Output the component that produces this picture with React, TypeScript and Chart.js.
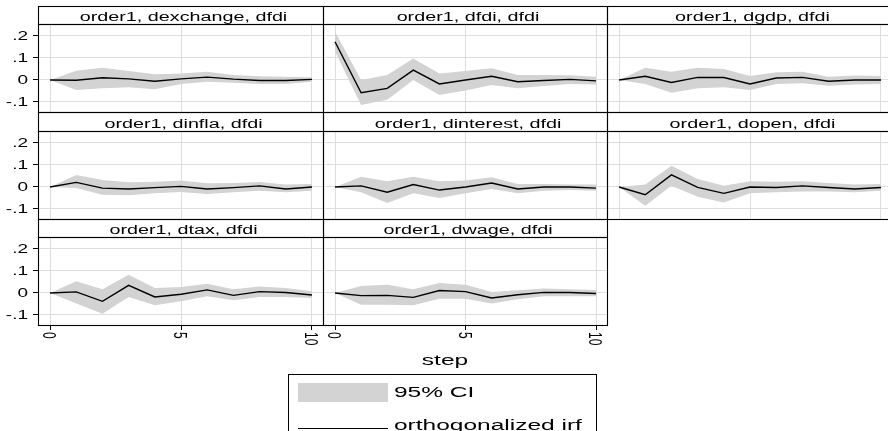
import React, { useEffect, useRef } from 'react';
import { Chart, registerables } from 'chart.js';

Chart.register(...registerables);

// ---------------- data ----------------
const steps = [0, 1, 2, 3, 4, 5, 6, 7, 8, 9, 10];
const xTickValues = [0, 5, 10];
const xTickLabels = ['0', '5', '10'];
const yTickValues = [0.2, 0.1, 0, -0.1];
const yTickLabels = ['.2', '.1', '0', '-.1'];
const xAxisTitle = 'step';
const legendLabels = ['95% CI', 'orthogonalized irf'];

const panelTitles = [
  'order1, dexchange, dfdi',
  'order1, dfdi, dfdi',
  'order1, dgdp, dfdi',
  'order1, dinfla, dfdi',
  'order1, dinterest, dfdi',
  'order1, dopen, dfdi',
  'order1, dtax, dfdi',
  'order1, dwage, dfdi',
];

const irfDexchange = [0, -0.001, 0.01, 0.005, -0.006, 0.005, 0.013, 0.004, -0.002, -0.002, 0.003];
const hiDexchange = [0, 0.042, 0.056, 0.041, 0.026, 0.03, 0.038, 0.023, 0.017, 0.015, 0.013];
const loDexchange = [0, -0.045, -0.038, -0.033, -0.042, -0.018, -0.008, -0.012, -0.018, -0.018, -0.008];

const irfDfdi = [0.174, -0.058, -0.038, 0.045, -0.018, 0.0, 0.017, -0.008, -0.002, 0.003, -0.004];
const hiDfdi = [0.22, 0.0, 0.023, 0.098, 0.03, 0.041, 0.053, 0.023, 0.023, 0.022, 0.015];
const loDfdi = [0.129, -0.114, -0.09, 0.0, -0.068, -0.048, -0.023, -0.038, -0.027, -0.018, -0.02];

const irfDgdp = [0, 0.017, -0.011, 0.012, 0.011, -0.018, 0.009, 0.012, -0.006, 0, 0];
const hiDgdp = [0, 0.056, 0.038, 0.056, 0.05, 0.018, 0.035, 0.038, 0.015, 0.02, 0.018];
const loDgdp = [0, -0.018, -0.058, -0.038, -0.033, -0.045, -0.018, -0.015, -0.026, -0.02, -0.018];

const irfDinfla = [0, 0.021, -0.005, -0.009, -0.003, 0.003, -0.009, -0.003, 0.005, -0.009, 0];
const hiDinfla = [0, 0.055, 0.032, 0.021, 0.024, 0.029, 0.017, 0.018, 0.023, 0.011, 0.014];
const loDinfla = [0, -0.005, -0.035, -0.038, -0.029, -0.023, -0.032, -0.024, -0.017, -0.024, -0.017];

const irfDinterest = [0, 0.005, -0.024, 0.011, -0.014, 0, 0.018, -0.009, 0, 0, -0.005];
const hiDinterest = [0, 0.047, 0.026, 0.047, 0.026, 0.029, 0.044, 0.014, 0.014, 0.011, 0.011];
const loDinterest = [0, -0.024, -0.073, -0.029, -0.05, -0.029, -0.009, -0.029, -0.017, -0.014, -0.017];

const irfDopen = [0, -0.035, 0.055, -0.002, -0.029, 0, -0.002, 0.005, -0.002, -0.009, -0.002];
const hiDopen = [0, 0.011, 0.097, 0.036, 0.006, 0.026, 0.024, 0.026, 0.018, 0.011, 0.014];
const loDopen = [0, -0.085, 0.006, -0.044, -0.07, -0.029, -0.024, -0.02, -0.021, -0.024, -0.017];

const irfDtax = [0, 0.005, -0.038, 0.035, -0.018, -0.006, 0.014, -0.011, 0.006, 0.002, -0.009];
const hiDtax = [0, 0.053, 0.017, 0.083, 0.023, 0.027, 0.042, 0.017, 0.029, 0.023, 0.008];
const loDtax = [0, -0.048, -0.094, -0.018, -0.056, -0.038, -0.015, -0.033, -0.018, -0.018, -0.023];

const irfDwage = [0, -0.012, -0.011, -0.02, 0.011, 0.006, -0.023, -0.008, 0.003, 0.002, -0.002];
const hiDwage = [0, 0.032, 0.038, 0.017, 0.045, 0.038, 0.005, 0.012, 0.02, 0.017, 0.014];
const loDwage = [0, -0.053, -0.053, -0.056, -0.026, -0.026, -0.048, -0.029, -0.015, -0.015, -0.015];

const irfSeries = [irfDexchange, irfDfdi, irfDgdp, irfDinfla, irfDinterest, irfDopen, irfDtax, irfDwage];
const hiSeries = [hiDexchange, hiDfdi, hiDgdp, hiDinfla, hiDinterest, hiDopen, hiDtax, hiDwage];
const loSeries = [loDexchange, loDfdi, loDgdp, loDinfla, loDinterest, loDopen, loDtax, loDwage];

// ---------------- styling / layout ----------------
const FONT = '"Liberation Sans", Arial, Helvetica, sans-serif';
const STRETCH = 1.58;
const CI_GRAY = '#d3d3d3';
const GRID_GRAY = '#dedede';

const COL_L = [38, 323, 607];
const COL_W = [285, 284, 285];
const ROW_T = [6, 112, 219];
const TITLE_H = [18, 19, 18];
const PLOT_H = 88;
const PAD = 2;
const X_LABEL_H = 30;
const X_MIN = -0.46;
const X_MAX = 10.42;
const Y_MIN = -0.1455;
const Y_MAX = 0.2545;

const decorPlugin = {
  id: 'panelDecor',
  afterDraw(chart: any, _args: any, opts: any) {
    const { ctx, chartArea: a, scales } = chart;
    const tTop = a.top - opts.titleH;
    ctx.save();
    ctx.strokeStyle = '#000';
    ctx.lineWidth = 1.1;
    ctx.strokeRect(a.left + 0.5, tTop + 0.5, a.right - a.left, opts.titleH);
    ctx.strokeRect(a.left + 0.5, a.top + 0.5, a.right - a.left, a.bottom - a.top);

    ctx.fillStyle = '#000';
    // title
    ctx.save();
    ctx.font = `12.5px ${FONT}`;
    ctx.textAlign = 'center';
    ctx.textBaseline = 'alphabetic';
    ctx.translate((a.left + a.right) / 2 + 3, tTop + opts.titleH - 3.5);
    ctx.scale(STRETCH, 1);
    ctx.fillText(opts.title, 0, 0);
    ctx.restore();

    ctx.font = `12px ${FONT}`;
    ctx.textBaseline = 'alphabetic';
    if (opts.showY) {
      ctx.textAlign = 'right';
      yTickValues.forEach((v, i) => {
        const y = scales.y.getPixelForValue(v);
        ctx.save();
        ctx.translate(a.left - 10, y);
        ctx.scale(STRETCH, 1);
        ctx.fillText(yTickLabels[i], 0, 4.3);
        ctx.restore();
      });
    }
    if (opts.showX) {
      ctx.textAlign = 'left';
      xTickValues.forEach((v, i) => {
        const x = scales.x.getPixelForValue(v);
        ctx.save();
        ctx.translate(x, a.bottom + 7);
        ctx.scale(STRETCH, 1);
        ctx.rotate(Math.PI / 2);
        ctx.fillText(xTickLabels[i], 0, 4.3);
        ctx.restore();
      });
    }
    ctx.restore();
  },
};

function Panel({ index }: { index: number }) {
  const ref = useRef<HTMLCanvasElement>(null);
  const col = index % 3;
  const row = Math.floor(index / 3);
  const showY = col === 0;
  const showX = row === 2;
  const L = COL_L[col];
  const W = COL_W[col];
  const T = ROW_T[row];
  const tH = TITLE_H[row];
  const canvasLeft = showY ? 0 : L - PAD;
  const canvasTop = T - PAD;
  const width = L + W + PAD - canvasLeft;
  const height = T + tH + PLOT_H + (showX ? X_LABEL_H : PAD) - canvasTop;

  useEffect(() => {
    const irf = irfSeries[index];
    const hi = hiSeries[index];
    const lo = loSeries[index];
    const chart = new Chart(ref.current as HTMLCanvasElement, {
      type: 'line',
      data: {
        datasets: [
          {
            label: legendLabels[1],
            data: steps.map((s, i) => ({ x: s, y: irf[i] })),
            borderColor: '#000',
            borderWidth: 1.4,
            pointRadius: 0,
            fill: false,
            tension: 0,
          },
          {
            label: legendLabels[0],
            data: steps.map((s, i) => ({ x: s, y: hi[i] })),
            borderColor: 'rgba(0,0,0,0)',
            borderWidth: 0,
            backgroundColor: CI_GRAY,
            pointRadius: 0,
            fill: '+1',
            tension: 0,
          },
          {
            label: 'lower',
            data: steps.map((s, i) => ({ x: s, y: lo[i] })),
            borderColor: 'rgba(0,0,0,0)',
            borderWidth: 0,
            pointRadius: 0,
            fill: false,
            tension: 0,
          },
        ],
      },
      options: {
        animation: false,
        responsive: false,
        events: [],
        layout: {
          padding: {
            top: PAD + tH,
            left: showY ? 0 : PAD,
            right: PAD,
            bottom: showX ? 0 : PAD,
          },
        },
        plugins: {
          legend: { display: false },
          tooltip: { enabled: false },
          title: { display: false },
          panelDecor: { title: panelTitles[index], titleH: tH, showX, showY },
        } as any,
        scales: {
          x: {
            type: 'linear',
            min: X_MIN,
            max: X_MAX,
            afterBuildTicks: (s: any) => {
              s.ticks = xTickValues.map((v) => ({ value: v }));
            },
            afterFit: (s: any) => {
              s.height = showX ? X_LABEL_H : 0;
            },
            ticks: { display: false },
            grid: {
              color: GRID_GRAY,
              lineWidth: 1,
              drawTicks: showX,
              tickLength: 5,
              tickColor: '#000',
              tickWidth: 1,
            },
            border: { display: false },
          },
          y: {
            type: 'linear',
            min: Y_MIN,
            max: Y_MAX,
            afterBuildTicks: (s: any) => {
              s.ticks = yTickValues.map((v) => ({ value: v }));
            },
            afterFit: (s: any) => {
              s.width = showY ? L : 0;
            },
            ticks: { display: false },
            grid: {
              color: GRID_GRAY,
              lineWidth: 1,
              drawTicks: showY,
              tickLength: 5,
              tickColor: '#000',
              tickWidth: 1,
            },
            border: { display: false },
          },
        },
      } as any,
      plugins: [decorPlugin as any],
    });
    return () => chart.destroy();
  }, []);

  return (
    <canvas
      ref={ref}
      width={width}
      height={height}
      style={{ position: 'absolute', left: canvasLeft, top: canvasTop, width, height }}
    />
  );
}

const stretched: React.CSSProperties = {
  position: 'absolute',
  whiteSpace: 'nowrap',
  fontSize: 15.5,
  lineHeight: '20px',
  color: '#000',
};

export default function App() {
  return (
    <div
      style={{
        position: 'absolute',
        left: 0,
        top: 0,
        width: 888,
        height: 431,
        overflow: 'hidden',
        background: '#fff',
        fontFamily: FONT,
      }}
    >
      {panelTitles.map((_, i) => (
        <Panel key={i} index={i} />
      ))}
      <div
        style={{
          ...stretched,
          left: 345,
          top: 350,
          width: 200,
          textAlign: 'center',
          transform: `scaleX(${STRETCH})`,
          transformOrigin: 'center top',
        }}
      >
        {xAxisTitle}
      </div>
      <div
        style={{
          position: 'absolute',
          left: 288,
          top: 374,
          width: 309,
          height: 80,
          border: '1px solid #000',
          boxSizing: 'border-box',
        }}
      />
      <div style={{ position: 'absolute', left: 298, top: 383, width: 90, height: 19, background: CI_GRAY }} />
      <div style={{ position: 'absolute', left: 298, top: 427.5, width: 90, height: 1.5, background: '#000' }} />
      <div style={{ ...stretched, left: 394, top: 382, transform: `scaleX(${STRETCH})`, transformOrigin: 'left top' }}>
        {legendLabels[0]}
      </div>
      <div style={{ ...stretched, left: 394, top: 415, transform: `scaleX(${STRETCH})`, transformOrigin: 'left top' }}>
        {legendLabels[1]}
      </div>
    </div>
  );
}
